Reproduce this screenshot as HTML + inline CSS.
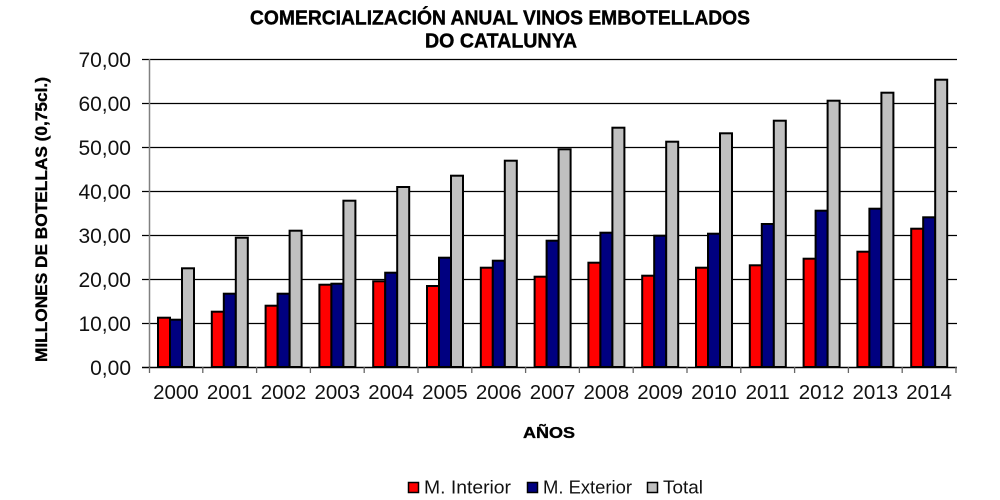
<!DOCTYPE html>
<html>
<head>
<meta charset="utf-8">
<style>
html,body{margin:0;padding:0;background:#fff;}
svg{display:block;}
text{font-family:"Liberation Sans",Arial,sans-serif;}
</style>
</head>
<body>
<svg width="1000" height="500" viewBox="0 0 1000 500" xmlns="http://www.w3.org/2000/svg">
<rect width="1000" height="500" fill="#fff"/>
<!-- Title -->
<text x="500" y="24.5" font-size="20" font-weight="bold" text-anchor="middle" textLength="500" lengthAdjust="spacingAndGlyphs" stroke="#000" stroke-width="0.4">COMERCIALIZACIÓN ANUAL VINOS EMBOTELLADOS</text>
<text x="501" y="47.5" font-size="20" font-weight="bold" text-anchor="middle" textLength="152" lengthAdjust="spacingAndGlyphs" stroke="#000" stroke-width="0.4">DO CATALUNYA</text>

<!-- Y label -->
<text transform="translate(47,219.5) rotate(-90)" font-size="16.5" font-weight="bold" text-anchor="middle" textLength="285" lengthAdjust="spacingAndGlyphs" stroke="#000" stroke-width="0.35">MILLONES DE BOTELLAS (0,75cl.)</text>

<!-- Gridlines -->
<g stroke="#000" stroke-width="1.3">
<line x1="142" y1="59.5" x2="957" y2="59.5"/>
<line x1="142" y1="103.5" x2="957" y2="103.5"/>
<line x1="142" y1="147.5" x2="957" y2="147.5"/>
<line x1="142" y1="191.5" x2="957" y2="191.5"/>
<line x1="142" y1="235.5" x2="957" y2="235.5"/>
<line x1="142" y1="279.5" x2="957" y2="279.5"/>
<line x1="142" y1="323.5" x2="957" y2="323.5"/>
</g>
<!-- left axis -->
<line x1="149.5" y1="59" x2="149.5" y2="368" stroke="#808080" stroke-width="1.5"/>
<!-- Y tick labels -->
<g font-size="21" text-anchor="end" fill="#111">
<text x="131" y="67">70,00</text>
<text x="131" y="111">60,00</text>
<text x="131" y="155">50,00</text>
<text x="131" y="199">40,00</text>
<text x="131" y="243">30,00</text>
<text x="131" y="287">20,00</text>
<text x="131" y="331">10,00</text>
<text x="131" y="375">0,00</text>
</g>

<!-- Bars -->
<g stroke="#000" stroke-width="2">
<g transform="translate(149,0)"><rect x="9" y="317.7" width="12" height="49.3" fill="#f00"/><rect x="21" y="319.7" width="12" height="47.3" fill="#000080"/><rect x="33" y="268.3" width="12" height="98.7" fill="#c0c0c0"/></g>
<g transform="translate(202.8,0)"><rect x="9" y="311.7" width="12" height="55.3" fill="#f00"/><rect x="21" y="293.7" width="12" height="73.3" fill="#000080"/><rect x="33" y="237.7" width="12" height="129.3" fill="#c0c0c0"/></g>
<g transform="translate(256.6,0)"><rect x="9" y="305.7" width="12" height="61.3" fill="#f00"/><rect x="21" y="293.7" width="12" height="73.3" fill="#000080"/><rect x="33" y="230.7" width="12" height="136.3" fill="#c0c0c0"/></g>
<g transform="translate(310.4,0)"><rect x="9" y="284.7" width="12" height="82.3" fill="#f00"/><rect x="21" y="283.7" width="12" height="83.3" fill="#000080"/><rect x="33" y="200.7" width="12" height="166.3" fill="#c0c0c0"/></g>
<g transform="translate(364.2,0)"><rect x="9" y="281.3" width="12" height="85.7" fill="#f00"/><rect x="21" y="272.7" width="12" height="94.3" fill="#000080"/><rect x="33" y="187" width="12" height="180" fill="#c0c0c0"/></g>
<g transform="translate(418,0)"><rect x="9" y="286" width="12" height="81" fill="#f00"/><rect x="21" y="257.7" width="12" height="109.3" fill="#000080"/><rect x="33" y="175.7" width="12" height="191.3" fill="#c0c0c0"/></g>
<g transform="translate(471.8,0)"><rect x="9" y="267.7" width="12" height="99.3" fill="#f00"/><rect x="21" y="260.7" width="12" height="106.3" fill="#000080"/><rect x="33" y="160.7" width="12" height="206.3" fill="#c0c0c0"/></g>
<g transform="translate(525.6,0)"><rect x="9" y="276.7" width="12" height="90.3" fill="#f00"/><rect x="21" y="240.7" width="12" height="126.3" fill="#000080"/><rect x="33" y="149.3" width="12" height="217.7" fill="#c0c0c0"/></g>
<g transform="translate(579.4,0)"><rect x="9" y="262.7" width="12" height="104.3" fill="#f00"/><rect x="21" y="232.7" width="12" height="134.3" fill="#000080"/><rect x="33" y="127.7" width="12" height="239.3" fill="#c0c0c0"/></g>
<g transform="translate(633.2,0)"><rect x="9" y="275.7" width="12" height="91.3" fill="#f00"/><rect x="21" y="235.7" width="12" height="131.3" fill="#000080"/><rect x="33" y="141.7" width="12" height="225.3" fill="#c0c0c0"/></g>
<g transform="translate(687,0)"><rect x="9" y="267.7" width="12" height="99.3" fill="#f00"/><rect x="21" y="233.7" width="12" height="133.3" fill="#000080"/><rect x="33" y="133.3" width="12" height="233.7" fill="#c0c0c0"/></g>
<g transform="translate(740.8,0)"><rect x="9" y="265.3" width="12" height="101.7" fill="#f00"/><rect x="21" y="224" width="12" height="143" fill="#000080"/><rect x="33" y="120.7" width="12" height="246.3" fill="#c0c0c0"/></g>
<g transform="translate(794.6,0)"><rect x="9" y="258.7" width="12" height="108.3" fill="#f00"/><rect x="21" y="210.7" width="12" height="156.3" fill="#000080"/><rect x="33" y="100.7" width="12" height="266.3" fill="#c0c0c0"/></g>
<g transform="translate(848.4,0)"><rect x="9" y="251.7" width="12" height="115.3" fill="#f00"/><rect x="21" y="208.7" width="12" height="158.3" fill="#000080"/><rect x="33" y="92.7" width="12" height="274.3" fill="#c0c0c0"/></g>
<g transform="translate(902.2,0)"><rect x="9" y="228.7" width="12" height="138.3" fill="#f00"/><rect x="21" y="217.3" width="12" height="149.7" fill="#000080"/><rect x="33" y="79.7" width="12" height="287.3" fill="#c0c0c0"/></g>
</g>

<!-- Bottom axis -->
<line x1="142" y1="367.5" x2="957" y2="367.5" stroke="#000" stroke-width="1.5"/>
<g stroke="#666" stroke-width="1.3">
<line x1="149.5" y1="367" x2="149.5" y2="373"/>
<line x1="202.8" y1="367" x2="202.8" y2="373"/>
<line x1="256.6" y1="367" x2="256.6" y2="373"/>
<line x1="310.4" y1="367" x2="310.4" y2="373"/>
<line x1="364.2" y1="367" x2="364.2" y2="373"/>
<line x1="418" y1="367" x2="418" y2="373"/>
<line x1="471.8" y1="367" x2="471.8" y2="373"/>
<line x1="525.6" y1="367" x2="525.6" y2="373"/>
<line x1="579.4" y1="367" x2="579.4" y2="373"/>
<line x1="633.2" y1="367" x2="633.2" y2="373"/>
<line x1="687" y1="367" x2="687" y2="373"/>
<line x1="740.8" y1="367" x2="740.8" y2="373"/>
<line x1="794.6" y1="367" x2="794.6" y2="373"/>
<line x1="848.4" y1="367" x2="848.4" y2="373"/>
<line x1="902.2" y1="367" x2="902.2" y2="373"/>
<line x1="956" y1="367" x2="956" y2="373"/>
</g>

<!-- Year labels -->
<g font-size="20.5" text-anchor="middle" fill="#111">
<text x="175.9" y="399">2000</text>
<text x="229.7" y="399">2001</text>
<text x="283.5" y="399">2002</text>
<text x="337.3" y="399">2003</text>
<text x="391.1" y="399">2004</text>
<text x="444.9" y="399">2005</text>
<text x="498.7" y="399">2006</text>
<text x="552.5" y="399">2007</text>
<text x="606.3" y="399">2008</text>
<text x="660.1" y="399">2009</text>
<text x="713.9" y="399">2010</text>
<text x="767.7" y="399">2011</text>
<text x="821.5" y="399">2012</text>
<text x="875.3" y="399">2013</text>
<text x="929.1" y="399">2014</text>
</g>

<!-- X axis title -->
<text x="523" y="438" font-size="16" font-weight="bold" textLength="52" lengthAdjust="spacingAndGlyphs" stroke="#000" stroke-width="0.35">AÑOS</text>

<!-- Legend -->
<g stroke="#000" stroke-width="1.5">
<rect x="408.5" y="482.5" width="10" height="10" fill="#f00"/>
<rect x="527.5" y="482.5" width="10" height="10" fill="#000080"/>
<rect x="647.5" y="482.5" width="10" height="10" fill="#c0c0c0"/>
</g>
<g font-size="18" fill="#111">
<text x="424" y="493.5" textLength="87" lengthAdjust="spacingAndGlyphs">M. Interior</text>
<text x="543" y="493.5" textLength="89" lengthAdjust="spacingAndGlyphs">M. Exterior</text>
<text x="663" y="493.5" textLength="40" lengthAdjust="spacingAndGlyphs">Total</text>
</g>
</svg>
</body>
</html>
